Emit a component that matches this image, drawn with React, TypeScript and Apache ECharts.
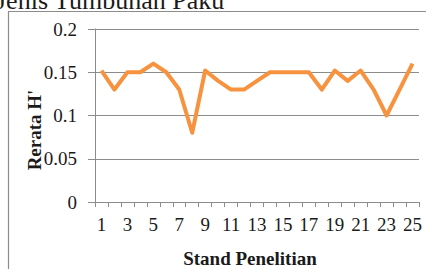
import React, { useEffect, useRef } from "react";
import * as echarts from "echarts";

const categories = ["1","2","3","4","5","6","7","8","9","10","11","12","13","14","15","16","17","18","19","20","21","22","23","24","25"];
const rerataH = [0.152,0.13,0.15,0.15,0.16,0.15,0.13,0.08,0.152,0.14,0.13,0.13,0.14,0.15,0.15,0.15,0.15,0.13,0.152,0.14,0.152,0.13,0.10,0.13,0.16];
const titleText = "Jenis Tumbuhan Paku";
const yName = "Rerata H'";
const xName = "Stand Penelitian";

const FONT = "Liberation Serif";

export default function App() {
  const ref = useRef<HTMLDivElement>(null);
  useEffect(() => {
    if (!ref.current) return;
    const chart = echarts.init(ref.current, null, { renderer: "svg" });
    chart.setOption({
      animation: false,
      backgroundColor: "#fff",
      grid: { left: 95, right: 7, top: 29, bottom: 67 },
      xAxis: {
        type: "category",
        data: categories,
        boundaryGap: true,
        axisLine: { lineStyle: { color: "#8c8c8c", width: 1 } },
        axisTick: { show: true, interval: 0, length: 5, lineStyle: { color: "#8c8c8c" } },
        axisLabel: { interval: 1, margin: 13, fontFamily: FONT, fontSize: 19, color: "#1a1a1a" },
        splitLine: { show: false },
      },
      yAxis: {
        type: "value",
        min: 0,
        max: 0.2,
        interval: 0.05,
        axisLine: { show: true, lineStyle: { color: "#8c8c8c", width: 1 } },
        axisTick: { show: true, length: 7, lineStyle: { color: "#8c8c8c" } },
        axisLabel: { margin: 18, fontFamily: FONT, fontSize: 19, color: "#1a1a1a" },
        splitLine: { show: true, lineStyle: { color: "#8c8c8c", width: 1 } },
      },
      series: [
        {
          type: "line",
          data: rerataH,
          showSymbol: false,
          symbol: "none",
          lineStyle: { color: "#F7923F", width: 4, join: "round" },
        },
      ],
      graphic: [
        {
          type: "rect",
          shape: { x: 8.5, y: 11.5, width: 600, height: 400 },
          style: { fill: "none", stroke: "#8c8c8c", lineWidth: 1.2 },
          z: -1,
        },
        {
          type: "text",
          x: -4,
          y: 13,
          style: {
            text: titleText,
            font: `26px ${FONT}`,
            fill: "#1a1a1a",
            align: "left",
            verticalAlign: "bottom",
          },
        },
        {
          type: "text",
          x: 34,
          y: 130,
          rotation: Math.PI / 2,
          style: {
            text: yName,
            font: `bold 19px ${FONT}`,
            fill: "#1a1a1a",
            align: "center",
            verticalAlign: "middle",
          },
        },
        {
          type: "text",
          x: 250,
          y: 258,
          style: {
            text: xName,
            font: `bold 19px ${FONT}`,
            fill: "#1a1a1a",
            align: "center",
            verticalAlign: "middle",
          },
        },
      ],
    });
    return () => chart.dispose();
  }, []);
  return (
    <div
      ref={ref}
      style={{ position: "fixed", left: 0, top: 0, width: 426, height: 269 }}
    />
  );
}
